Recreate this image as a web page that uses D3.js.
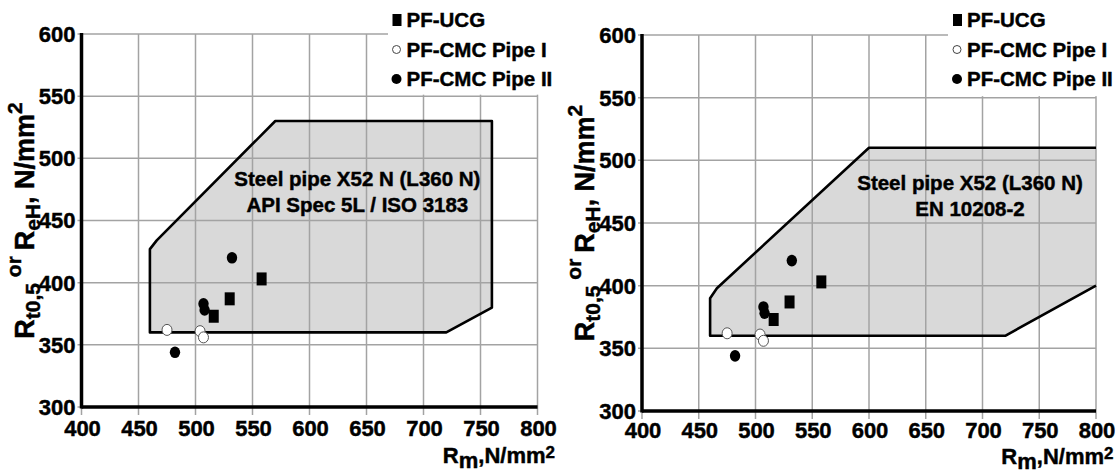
<!DOCTYPE html>
<html>
<head>
<meta charset="utf-8">
<script src="https://cdn.jsdelivr.net/npm/d3@7"></script>
<style>
  body { margin: 0; background: #fff; }
  svg { display: block; font-family: "Liberation Sans", Arial, sans-serif; font-weight: bold; }
  svg text { fill: #000; stroke: #000; stroke-width: 0.45px; }
</style>
</head>
<body>
<svg id="chart" width="1119" height="474"></svg>
<script>
// axis ticks (N/mm2)
const xTicks = [400, 450, 500, 550, 600, 650, 700, 750, 800];
const yTicks = [300, 350, 400, 450, 500, 550, 600];

// measured points: [Rm, Rt0.5 / ReH]
const pfUcg = [[558, 403], [530, 387], [516, 373]];
const pfCmcPipeI = [[475, 362], [504, 361], [507, 356]];
const pfCmcPipeII = [[532, 420], [507, 383], [508, 378], [482, 344]];

const legendLabels = ["PF-UCG", "PF-CMC Pipe I", "PF-CMC Pipe II"];

// specification windows
const zoneApi = [[460, 360], [460, 427], [466, 434], [570, 530], [760, 530], [760, 380], [720, 360]];
const zoneEn = [[800, 510], [600, 510], [466, 398], [460, 390], [460, 360], [720, 360], [800, 400]];

const noteApi = ["Steel pipe X52 N (L360 N)", "API Spec 5L / ISO 3183"];
const noteEn = ["Steel pipe X52 (L360 N)", "EN 10208-2"];

// layout of the two panels
const panels = [
  { x0: 81.5, x1: 537.5, yTop: 34, yBot: 407, zone: zoneApi, closed: true,
    note: noteApi, noteAt: [642, 478], legendCut: 388, tickGap: 29, titleY: 463 },
  { x0: 642, x1: 1096, yTop: 35, yBot: 411, zone: zoneEn, closed: false,
    note: noteEn, noteAt: [689, 476], legendCut: 948, tickGap: 27, titleY: 464 },
];

const svg = d3.select("#chart");

panels.forEach((p) => {
  const x = d3.scaleLinear().domain([400, 800]).range([p.x0, p.x1]);
  const y = d3.scaleLinear().domain([300, 600]).range([p.yBot, p.yTop]);
  const g = svg.append("g");

  const line = d3.line().x((d) => x(d[0])).y((d) => y(d[1]));

  // shaded window
  g.append("path")
    .attr("d", line(p.zone) + "Z")
    .attr("fill", "#d9d9d9")
    .attr("stroke", "none");

  // grid
  g.append("g")
    .selectAll("line")
    .data(xTicks)
    .join("line")
    .attr("x1", (d) => x(d))
    .attr("x2", (d) => x(d))
    .attr("y1", p.yTop)
    .attr("y2", p.yBot + 8)
    .attr("stroke", "#a3a3a3")
    .attr("stroke-width", 1.5);

  g.append("g")
    .selectAll("line")
    .data(yTicks)
    .join("line")
    .attr("x1", p.x0 - 4)
    .attr("x2", p.x1)
    .attr("y1", (d) => y(d))
    .attr("y2", (d) => y(d))
    .attr("stroke", "#a3a3a3")
    .attr("stroke-width", 1.5);

  // legend background hides the grid corner
  g.append("rect")
    .attr("x", p.legendCut)
    .attr("y", 0)
    .attr("width", p.x1 + 30 - p.legendCut)
    .attr("height", y(550) - 1.5)
    .attr("fill", "#fff");

  // window outline
  g.append("path")
    .attr("d", line(p.zone) + (p.closed ? "Z" : ""))
    .attr("fill", "none")
    .attr("stroke", "#000")
    .attr("stroke-width", 2.6)
    .attr("stroke-linejoin", "round");

  // axes
  g.append("line")
    .attr("x1", p.x0).attr("x2", p.x0)
    .attr("y1", p.yTop - 1).attr("y2", p.yBot + 1.5)
    .attr("stroke", "#000").attr("stroke-width", 3.5);
  g.append("line")
    .attr("x1", p.x0).attr("x2", p.x1)
    .attr("y1", p.yBot).attr("y2", p.yBot)
    .attr("stroke", "#000").attr("stroke-width", 3.5);

  // tick labels
  g.append("g")
    .selectAll("text")
    .data(yTicks)
    .join("text")
    .attr("x", p.x0 - 6)
    .attr("y", (d) => y(d))
    .attr("dy", "0.36em")
    .attr("text-anchor", "end")
    .style("font-size", "22px")
    .text((d) => d);

  g.append("g")
    .selectAll("text")
    .data(xTicks)
    .join("text")
    .attr("x", (d) => x(d) + 1)
    .attr("y", p.yBot + p.tickGap)
    .attr("text-anchor", "middle")
    .style("font-size", "22px")
    .text((d) => d);

  // window note
  g.append("g")
    .selectAll("text")
    .data(p.note)
    .join("text")
    .attr("x", x(p.noteAt[0]))
    .attr("y", (d, i) => y(p.noteAt[1]) + i * 26)
    .attr("text-anchor", "middle")
    .style("font-size", "20.5px")
    .text((d) => d);

  // points
  g.append("g")
    .selectAll("rect")
    .data(pfUcg)
    .join("rect")
    .attr("x", (d) => x(d[0]) - 5)
    .attr("y", (d) => y(d[1]) - 6.5)
    .attr("width", 10)
    .attr("height", 13)
    .attr("fill", "#000");

  g.append("g")
    .selectAll("ellipse")
    .data(pfCmcPipeII)
    .join("ellipse")
    .attr("cx", (d) => x(d[0]))
    .attr("cy", (d) => y(d[1]))
    .attr("rx", 5.2)
    .attr("ry", 5.8)
    .attr("fill", "#000");

  g.append("g")
    .selectAll("ellipse")
    .data(pfCmcPipeI)
    .join("ellipse")
    .attr("cx", (d) => x(d[0]))
    .attr("cy", (d) => y(d[1]))
    .attr("rx", 5)
    .attr("ry", 5.5)
    .attr("fill", "#fff")
    .attr("stroke", "#555")
    .attr("stroke-width", 1);

  // legend
  const lx = p.x0 + 315;
  const rows = [20, 49.5, 79];
  const leg = g.append("g");
  leg.append("rect").attr("x", lx - 4).attr("y", rows[0] - 6).attr("width", 9).attr("height", 12).attr("fill", "#000");
  leg.append("circle").attr("cx", lx).attr("cy", rows[1]).attr("r", 4)
    .attr("fill", "#fff").attr("stroke", "#444").attr("stroke-width", 1);
  leg.append("circle").attr("cx", lx).attr("cy", rows[2]).attr("r", 5).attr("fill", "#000");
  leg.selectAll("text")
    .data(legendLabels)
    .join("text")
    .attr("x", lx + 10)
    .attr("y", (d, i) => rows[i])
    .attr("dy", "0.36em")
    .style("font-size", "20.5px")
    .text((d) => d);

  // x title: Rm, N/mm2
  const xt = g.append("text")
    .attr("x", p.x1 + 17.5)
    .attr("y", p.titleY)
    .attr("text-anchor", "end")
    .style("font-size", "22px");
  xt.append("tspan").text("R");
  xt.append("tspan").attr("dy", 5).text("m");
  xt.append("tspan").attr("dy", -5).text(",N/mm");
  xt.append("tspan").attr("dy", -5).style("font-size", "17px").text("2");

  // y title: Rt0,5 or ReH, N/mm2
  const cy = (p.yTop + p.yBot) / 2;
  const yt = g.append("text")
    .attr("transform", `translate(${p.x0 - 48},${cy}) rotate(-90)`)
    .attr("text-anchor", "middle")
    .style("font-size", "27px");
  yt.append("tspan").text("R");
  yt.append("tspan").attr("dy", 6).style("font-size", "21px").text("t0,5");
  yt.append("tspan").attr("dy", -19).style("font-size", "21px").text(" or ");
  yt.append("tspan").attr("dy", 13).text("R");
  yt.append("tspan").attr("dy", 6).style("font-size", "21px").text("eH");
  yt.append("tspan").attr("dy", -6).text(", N/mm");
  yt.append("tspan").attr("dy", -12).style("font-size", "21px").text("2");
});
</script>
</body>
</html>
